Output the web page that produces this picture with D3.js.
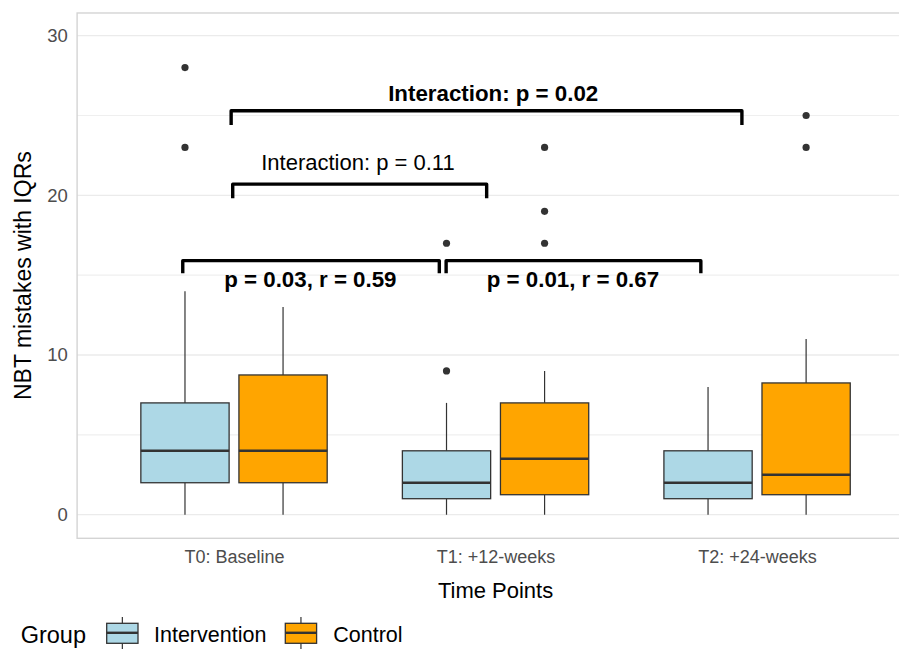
<!DOCTYPE html>
<html>
<head>
<meta charset="utf-8">
<script src="https://cdn.jsdelivr.net/npm/d3@7"></script>
<style>
  html, body { margin: 0; padding: 0; background: #fff; }
  svg { display: block; }
  text { font-family: "Liberation Sans", Arial, Helvetica, sans-serif; }
</style>
</head>
<body>
<svg id="chart" width="899" height="649"></svg>
<script>
// ---- data ----
const categories = ["T0: Baseline", "T1: +12-weeks", "T2: +24-weeks"];
const groups = ["Intervention", "Control"];
const groupColors = ["#ADD8E6", "#FFA500"];

const intLow = [0, 0, 0];
const intQ1 = [2, 1, 1];
const intMedian = [4, 2, 2];
const intQ3 = [7, 4, 4];
const intHigh = [14, 7, 8];
const intOutliers = [[23, 28], [9, 17], []];

const ctrlLow = [0, 0, 0];
const ctrlQ1 = [2, 1.25, 1.25];
const ctrlMedian = [4, 3.5, 2.5];
const ctrlQ3 = [8.75, 7, 8.25];
const ctrlHigh = [13, 9, 11];
const ctrlOutliers = [[], [17, 19, 23], [23, 25]];

const yTicks = [0, 10, 20, 30];
const yMinorTicks = [5, 15, 25];

// significance brackets (x in category-index units, y in data units)
const bracketStart = [-0.011, -0.005, -0.196, 0.811];
const bracketEnd = [1.942, 0.966, 0.785, 1.785];
const bracketY = [25.30, 20.70, 15.91, 15.91];
const bracketTip = [24.41, 19.82, 15.12, 15.12];
const bracketLabels = ["Interaction: p = 0.02", "Interaction: p = 0.11", "p = 0.03, r = 0.59", "p = 0.01, r = 0.67"];
const labelX = [0.991, 0.474, 0.292, 1.296];
const labelY = [25.93, 21.59, 14.28, 14.28];
const labelBold = [true, false, true, true];

// ---- build table ----
const boxes = [];
categories.forEach((c, i) => {
  boxes.push({cat: c, group: groups[0], low: intLow[i], q1: intQ1[i], med: intMedian[i], q3: intQ3[i], high: intHigh[i], out: intOutliers[i]});
  boxes.push({cat: c, group: groups[1], low: ctrlLow[i], q1: ctrlQ1[i], med: ctrlMedian[i], q3: ctrlQ3[i], high: ctrlHigh[i], out: ctrlOutliers[i]});
});

// ---- layout ----
const panel = {left: 77.1, right: 914, top: 13, bottom: 538.3};
const svg = d3.select("#chart");

const x = d3.scalePoint().domain(categories).range([panel.left, panel.right]).padding(0.6);
const step = x.step();
const xDodge = d3.scaleBand().domain(groups).range([-0.375 * step, 0.375 * step]).paddingInner(0.1).paddingOuter(0.05);
const xIdx = d3.scaleLinear().domain([0, 2]).range([x(categories[0]), x(categories[2])]);
const y = d3.scaleLinear().domain([-1.48, 31.42]).range([panel.bottom, panel.top]);
const color = d3.scaleOrdinal().domain(groups).range(groupColors);

const clip = svg.append("defs").append("clipPath").attr("id", "pclip")
  .append("rect").attr("x", panel.left).attr("y", panel.top)
  .attr("width", panel.right - panel.left).attr("height", panel.bottom - panel.top);

// gridlines
const grid = svg.append("g");
grid.selectAll("line.minor").data(yMinorTicks).join("line")
  .attr("x1", panel.left).attr("x2", panel.right)
  .attr("y1", d => y(d)).attr("y2", d => y(d))
  .attr("stroke", "#efefef").attr("stroke-width", 1.1);
grid.selectAll("line.major").data(yTicks).join("line")
  .attr("x1", panel.left).attr("x2", panel.right)
  .attr("y1", d => y(d)).attr("y2", d => y(d))
  .attr("stroke", "#ebebeb").attr("stroke-width", 1.3);

// panel border
svg.append("rect")
  .attr("x", panel.left).attr("y", panel.top)
  .attr("width", panel.right - panel.left).attr("height", panel.bottom - panel.top)
  .attr("fill", "none").attr("stroke", "#d4d4d4").attr("stroke-width", 1.4);

// y axis labels
const yAxis = d3.axisLeft(y).tickValues(yTicks).tickSize(0).tickPadding(9.4);
const ya = svg.append("g").attr("transform", `translate(${panel.left},0)`).call(yAxis);
ya.select(".domain").remove();
ya.selectAll("text").attr("fill", "#4D4D4D").style("font-size", "18.5px")
  .style("font-family", "'Liberation Sans', Arial, sans-serif");

// x axis labels
const xAxis = d3.axisBottom(x).tickSize(0).tickPadding(0);
const xa = svg.append("g").attr("transform", `translate(0,${panel.bottom})`).call(xAxis);
xa.select(".domain").remove();
xa.selectAll("text").attr("fill", "#4D4D4D").style("font-size", "18px")
  .style("font-family", "'Liberation Sans', Arial, sans-serif")
  .attr("dy", null).attr("y", 562.7 - panel.bottom);

// boxes
const bw = xDodge.bandwidth();
const bg = svg.append("g").attr("clip-path", "url(#pclip)");
const bxs = bg.selectAll("g.box").data(boxes).join("g")
  .attr("transform", d => `translate(${x(d.cat) + xDodge(d.group)},0)`);
bxs.append("line").attr("x1", bw / 2).attr("x2", bw / 2)
  .attr("y1", d => y(d.q3)).attr("y2", d => y(d.high))
  .attr("stroke", "#333").attr("stroke-width", 1.2);
bxs.append("line").attr("x1", bw / 2).attr("x2", bw / 2)
  .attr("y1", d => y(d.q1)).attr("y2", d => y(d.low))
  .attr("stroke", "#333").attr("stroke-width", 1.2);
bxs.append("rect").attr("x", 0).attr("width", bw)
  .attr("y", d => y(d.q3)).attr("height", d => y(d.q1) - y(d.q3))
  .attr("fill", d => color(d.group)).attr("stroke", "#333").attr("stroke-width", 1.3);
bxs.append("line").attr("x1", 0).attr("x2", bw)
  .attr("y1", d => y(d.med)).attr("y2", d => y(d.med))
  .attr("stroke", "#333").attr("stroke-width", 2.6);
bxs.selectAll("circle").data(d => d.out).join("circle")
  .attr("cx", bw / 2).attr("cy", v => y(v)).attr("r", 3.6).attr("fill", "#333");

// brackets
const br = svg.append("g");
bracketStart.forEach((s, i) => {
  const x1 = xIdx(s), x2 = xIdx(bracketEnd[i]);
  const yb = y(bracketY[i]), yt = y(bracketTip[i]);
  br.append("path")
    .attr("d", `M${x1},${yt}L${x1},${yb}L${x2},${yb}L${x2},${yt}`)
    .attr("fill", "none").attr("stroke", "#000").attr("stroke-width", 3.4)
    .attr("stroke-linejoin", "round");
  br.append("text")
    .attr("x", xIdx(labelX[i])).attr("y", y(labelY[i]))
    .attr("text-anchor", "middle")
    .style("font-size", labelBold[i] ? "22.3px" : "22px")
    .style("font-weight", labelBold[i] ? "bold" : "normal")
    .attr("fill", "#000").text(bracketLabels[i]);
});

// axis titles
svg.append("text").attr("x", (panel.left + panel.right) / 2).attr("y", 597.7)
  .attr("text-anchor", "middle").style("font-size", "22px").attr("fill", "#000")
  .text("Time Points");
svg.append("text").attr("transform", `translate(30.7,${(panel.top + panel.bottom) / 2}) rotate(-90)`)
  .attr("text-anchor", "middle").style("font-size", "23px").attr("fill", "#000")
  .text("NBT mistakes with IQRs");

// legend
const lg = svg.append("g");
lg.append("text").attr("x", 20.7).attr("y", 642.5).style("font-size", "23.5px").attr("fill", "#000").text("Group");
const keyX = [106.7, 285.3];
const textX = [154, 333.3];
groups.forEach((g, i) => {
  const kx = keyX[i], kw = 31.3;
  lg.append("line").attr("x1", kx + kw / 2).attr("x2", kx + kw / 2).attr("y1", 617).attr("y2", 652)
    .attr("stroke", "#333").attr("stroke-width", 1.2);
  lg.append("rect").attr("x", kx).attr("y", 623.3).attr("width", kw).attr("height", 20)
    .attr("fill", color(g)).attr("stroke", "#333").attr("stroke-width", 1.3);
  lg.append("line").attr("x1", kx).attr("x2", kx + kw).attr("y1", 632.8).attr("y2", 632.8)
    .attr("stroke", "#333").attr("stroke-width", 2.4);
  lg.append("text").attr("x", textX[i]).attr("y", 642).style("font-size", "21.5px").attr("fill", "#000").text(g);
});
</script>
</body>
</html>
